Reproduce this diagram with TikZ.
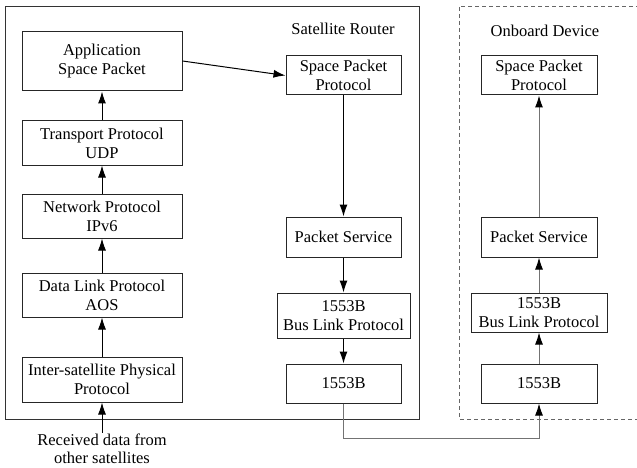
\documentclass[tikz,border=0pt]{standalone}
\usepackage{fontspec}
\setmainfont{Liberation Serif}
\usetikzlibrary{arrows.meta}
\begin{document}
\begin{tikzpicture}[x=1pt,y=-1pt,
  font=\fontsize{16.5}{19}\selectfont,
  box/.style={draw=black!85, line width=1pt, align=center, inner sep=0pt},
  flow/.style={line width=1pt, -{Latex[length=12pt,width=8pt]}},
  grayflow/.style={flow, draw=black!55, -{Latex[length=12pt,width=8pt,color=black]}},
  frame/.style={line width=1pt}]
\useasboundingbox (0,0) rectangle (637,468);

% Satellite router frame and onboard device frame
\draw[frame, draw=black!80] (5,7) rectangle (419,419);
\begin{scope}
  \clip (0,0) rectangle (637,468);
  \draw[frame, draw=black!60, dash pattern=on 4pt off 3pt] (459,7) rectangle (645,419);
\end{scope}
\node (lblR) at (343,29) {Satellite Router};
\node (lblD) at (545,31) {Onboard Device};

% left stack
\node[box, minimum width=160pt, minimum height=59pt] (app) at (102,61.5) {Application\\Space Packet};
\node[box, minimum width=160pt, minimum height=44pt] (tp) at (102,143) {Transport Protocol\\UDP};
\node[box, minimum width=160pt, minimum height=44pt] (np) at (102,216) {Network Protocol\\IPv6};
\node[box, minimum width=160pt, minimum height=44pt] (dl) at (102,295) {Data Link Protocol\\AOS};
\node[box, minimum width=160pt, minimum height=45pt] (isp) at (102,379.5) {Inter-satellite Physical\\Protocol};
\node[align=center, inner sep=1pt, font=\fontsize{16.5}{18}\selectfont] (recv) at (102,449) {Received data from\\other satellites};

% router stack
\node[box, minimum width=115pt, minimum height=39pt] (spp) at (343.5,75.5) {Space Packet\\Protocol};
\node[box, minimum width=115pt, minimum height=40pt] (ps) at (343.5,237) {Packet Service};
\node[box, minimum width=133pt, minimum height=45pt] (bus) at (343.5,315.5) {1553B\\Bus Link Protocol};
\node[box, minimum width=115pt, minimum height=39pt] (b) at (343.5,383.5) {1553B};

% onboard device stack
\node[box, minimum width=116pt, minimum height=39pt] (spp2) at (539,75.5) {Space Packet\\Protocol};
\node[box, minimum width=116pt, minimum height=40pt] (ps2) at (539,237) {Packet Service};
\node[box, minimum width=136pt, minimum height=39pt] (bus2) at (539,312.5) {1553B\\Bus Link Protocol};
\node[box, minimum width=116pt, minimum height=39pt] (b2) at (539,383.5) {1553B};

% connectors
\draw[flow] (recv.north) -- (isp.south);
\draw[flow] (isp) -- (dl);
\draw[flow] (dl) -- (np);
\draw[flow] (np) -- (tp);
\draw[flow] (tp) -- (app);
\draw[flow] ([yshift=0.5pt]app.east) -- (spp.west);
\draw[flow] (spp) -- (ps);
\draw[flow] (ps) -- (bus);
\draw[flow] (bus) -- (b);
\draw[grayflow] (b.south) -- ++(0,35) -| (b2.south);
\draw[grayflow] (b2) -- (bus2);
\draw[grayflow] (bus2) -- (ps2);
\draw[grayflow] (ps2) -- (spp2);
\end{tikzpicture}
\end{document}
